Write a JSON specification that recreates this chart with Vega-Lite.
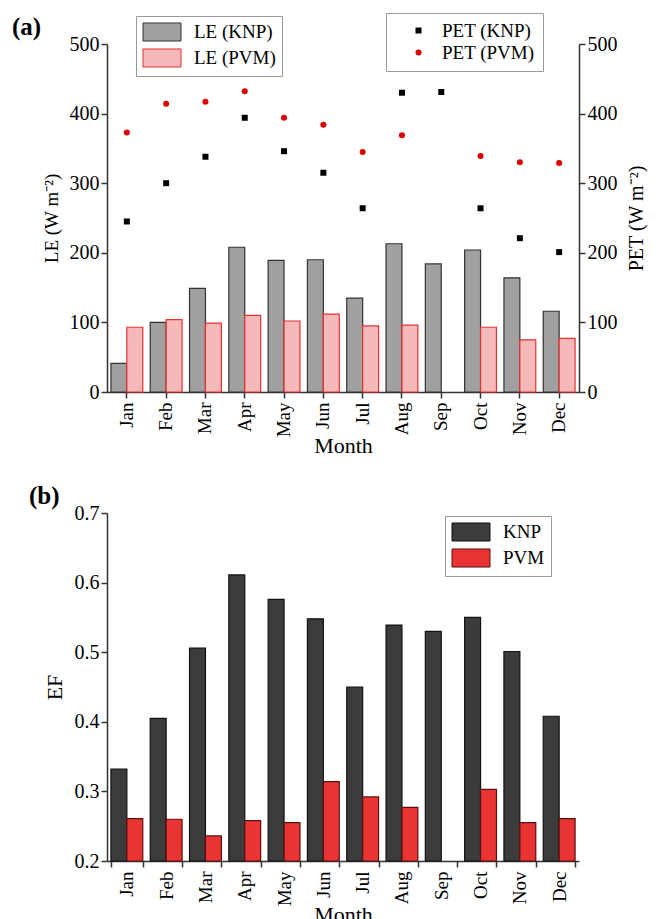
{
  "$schema": "https://vega.github.io/schema/vega-lite/v6.json",
  "background": "white",
  "padding": {"left": 12, "top": 12, "right": 5, "bottom": 0},
  "spacing": 27,
  "config": {
    "font": "Liberation Serif",
    "view": {"stroke": null},
    "axis": {
      "grid": false,
      "domainColor": "#333",
      "domainWidth": 1.5,
      "tickColor": "#333",
      "tickWidth": 1.5,
      "tickSize": 6,
      "labelFont": "Liberation Serif",
      "labelFontSize": 20,
      "labelColor": "black",
      "titleFont": "Liberation Serif",
      "titleFontSize": 19,
      "titleFontWeight": "normal",
      "titleColor": "black"
    },
    "legend": {
      "labelFont": "Liberation Serif",
      "labelFontSize": 19,
      "labelColor": "black",
      "strokeColor": "#999",
      "padding": 6,
      "rowPadding": 2
    }
  },
  "datasets": {
    "le": [
      {"month": "Jan", "site": "LE (KNP)", "LE": 41},
      {"month": "Jan", "site": "LE (PVM)", "LE": 93},
      {"month": "Feb", "site": "LE (KNP)", "LE": 100},
      {"month": "Feb", "site": "LE (PVM)", "LE": 104},
      {"month": "Mar", "site": "LE (KNP)", "LE": 149},
      {"month": "Mar", "site": "LE (PVM)", "LE": 99},
      {"month": "Apr", "site": "LE (KNP)", "LE": 208},
      {"month": "Apr", "site": "LE (PVM)", "LE": 110},
      {"month": "May", "site": "LE (KNP)", "LE": 189},
      {"month": "May", "site": "LE (PVM)", "LE": 102},
      {"month": "Jun", "site": "LE (KNP)", "LE": 190},
      {"month": "Jun", "site": "LE (PVM)", "LE": 112},
      {"month": "Jul", "site": "LE (KNP)", "LE": 135},
      {"month": "Jul", "site": "LE (PVM)", "LE": 95},
      {"month": "Aug", "site": "LE (KNP)", "LE": 213},
      {"month": "Aug", "site": "LE (PVM)", "LE": 96},
      {"month": "Sep", "site": "LE (KNP)", "LE": 184},
      {"month": "Oct", "site": "LE (KNP)", "LE": 204},
      {"month": "Oct", "site": "LE (PVM)", "LE": 93},
      {"month": "Nov", "site": "LE (KNP)", "LE": 164},
      {"month": "Nov", "site": "LE (PVM)", "LE": 75},
      {"month": "Dec", "site": "LE (KNP)", "LE": 116},
      {"month": "Dec", "site": "LE (PVM)", "LE": 77}
    ],
    "pet": [
      {"month": "Jan", "site": "PET (KNP)", "PET": 245},
      {"month": "Jan", "site": "PET (PVM)", "PET": 373},
      {"month": "Feb", "site": "PET (KNP)", "PET": 300},
      {"month": "Feb", "site": "PET (PVM)", "PET": 414},
      {"month": "Mar", "site": "PET (KNP)", "PET": 338},
      {"month": "Mar", "site": "PET (PVM)", "PET": 417},
      {"month": "Apr", "site": "PET (KNP)", "PET": 394},
      {"month": "Apr", "site": "PET (PVM)", "PET": 432},
      {"month": "May", "site": "PET (KNP)", "PET": 346},
      {"month": "May", "site": "PET (PVM)", "PET": 394},
      {"month": "Jun", "site": "PET (KNP)", "PET": 315},
      {"month": "Jun", "site": "PET (PVM)", "PET": 384},
      {"month": "Jul", "site": "PET (KNP)", "PET": 264},
      {"month": "Jul", "site": "PET (PVM)", "PET": 345},
      {"month": "Aug", "site": "PET (KNP)", "PET": 430},
      {"month": "Aug", "site": "PET (PVM)", "PET": 369},
      {"month": "Sep", "site": "PET (KNP)", "PET": 431},
      {"month": "Oct", "site": "PET (KNP)", "PET": 264},
      {"month": "Oct", "site": "PET (PVM)", "PET": 339},
      {"month": "Nov", "site": "PET (KNP)", "PET": 221},
      {"month": "Nov", "site": "PET (PVM)", "PET": 330},
      {"month": "Dec", "site": "PET (KNP)", "PET": 201},
      {"month": "Dec", "site": "PET (PVM)", "PET": 329}
    ],
    "ef": [
      {"month": "Jan", "site": "KNP", "EF": 0.332},
      {"month": "Jan", "site": "PVM", "EF": 0.261},
      {"month": "Feb", "site": "KNP", "EF": 0.405},
      {"month": "Feb", "site": "PVM", "EF": 0.260},
      {"month": "Mar", "site": "KNP", "EF": 0.506},
      {"month": "Mar", "site": "PVM", "EF": 0.236},
      {"month": "Apr", "site": "KNP", "EF": 0.611},
      {"month": "Apr", "site": "PVM", "EF": 0.258},
      {"month": "May", "site": "KNP", "EF": 0.576},
      {"month": "May", "site": "PVM", "EF": 0.255},
      {"month": "Jun", "site": "KNP", "EF": 0.548},
      {"month": "Jun", "site": "PVM", "EF": 0.314},
      {"month": "Jul", "site": "KNP", "EF": 0.450},
      {"month": "Jul", "site": "PVM", "EF": 0.292},
      {"month": "Aug", "site": "KNP", "EF": 0.539},
      {"month": "Aug", "site": "PVM", "EF": 0.277},
      {"month": "Sep", "site": "KNP", "EF": 0.530},
      {"month": "Oct", "site": "KNP", "EF": 0.550},
      {"month": "Oct", "site": "PVM", "EF": 0.303},
      {"month": "Nov", "site": "KNP", "EF": 0.501},
      {"month": "Nov", "site": "PVM", "EF": 0.255},
      {"month": "Dec", "site": "KNP", "EF": 0.408},
      {"month": "Dec", "site": "PVM", "EF": 0.261}
    ]
  },
  "vconcat": [
    {
      "width": 472,
      "height": 348,
      "title": {"text": "(a)", "anchor": "start", "frame": "group", "font": "Liberation Serif", "fontSize": 25, "fontWeight": "bold", "dx": -95, "dy": 24, "offset": 0},
      "layer": [
        {
          "data": {"name": "le"},
          "mark": {"type": "bar", "strokeWidth": 1.2},
          "encoding": {
            "x": {"field": "month", "type": "nominal", "sort": ["Jan","Feb","Mar","Apr","May","Jun","Jul","Aug","Sep","Oct","Nov","Dec"],
                  "scale": {"paddingInner": 0.19, "paddingOuter": 0.1},
                  "axis": {"title": "Month", "labelAngle": -90, "labelFontSize": 19, "titleFontSize": 22, "labelPadding": 4, "titlePadding": -1}},
            "xOffset": {"field": "site", "type": "nominal", "scale": {"domain": ["LE (KNP)", "LE (PVM)"]}},
            "y": {"field": "LE", "type": "quantitative", "scale": {"domain": [0, 500]},
                  "axis": {"title": "LE (W m⁻²)", "values": [0,100,200,300,400,500], "titlePadding": 8}},
            "fill": {"field": "site", "type": "nominal", "title": null,
                     "scale": {"domain": ["LE (KNP)", "LE (PVM)"], "range": ["#a0a0a0", "#f6b9b9"]},
                     "legend": {"orient": "none", "legendX": 29, "legendY": -28, "symbolType": "M-2,-0.95H2V0.95H-2Z", "symbolSize": 361, "labelOffset": 22, "symbolOffset": 10, "symbolStrokeWidth": 1}},
            "stroke": {"field": "site", "type": "nominal", "title": null,
                     "scale": {"domain": ["LE (KNP)", "LE (PVM)"], "range": ["#333333", "#e83030"]},
                     "legend": {"orient": "none", "legendX": 29, "legendY": -28, "symbolType": "M-2,-0.95H2V0.95H-2Z", "symbolSize": 361, "labelOffset": 22, "symbolOffset": 10, "symbolStrokeWidth": 1}}
          }
        },
        {
          "data": {"name": "pet"},
          "mark": {"type": "point", "filled": true, "size": 36, "opacity": 1},
          "encoding": {
            "x": {"field": "month", "type": "nominal", "sort": ["Jan","Feb","Mar","Apr","May","Jun","Jul","Aug","Sep","Oct","Nov","Dec"]},
            "y": {"field": "PET", "type": "quantitative", "scale": {"domain": [0, 500]},
                  "axis": {"orient": "right", "title": "PET (W m⁻²)", "values": [0,100,200,300,400,500], "titleAngle": 270, "titleBaseline": "top", "titlePadding": 9, "titleFontSize": 20}},
            "color": {"field": "site", "type": "nominal", "title": null,
                      "scale": {"domain": ["PET (KNP)", "PET (PVM)"], "range": ["black", "#e00000"]},
                      "legend": {"orient": "none", "legendX": 279, "legendY": -31, "symbolSize": 36, "labelOffset": 14, "symbolOffset": 15, "padding": 8}},
            "shape": {"field": "site", "type": "nominal", "title": null,
                      "scale": {"domain": ["PET (KNP)", "PET (PVM)"], "range": ["square", "circle"]},
                      "legend": {"orient": "none", "legendX": 279, "legendY": -31, "symbolSize": 36, "labelOffset": 14, "symbolOffset": 15, "padding": 8}}
          }
        }
      ],
      "resolve": {"scale": {"y": "independent"}}
    },
    {
      "width": 472,
      "height": 348,
      "title": {"text": "(b)", "anchor": "start", "frame": "group", "font": "Liberation Serif", "fontSize": 25, "fontWeight": "bold", "dx": -78, "dy": 6, "offset": 0},
      "data": {"name": "ef"},
      "mark": {"type": "bar", "strokeWidth": 1.2},
      "encoding": {
        "x": {"field": "month", "type": "nominal", "sort": ["Jan","Feb","Mar","Apr","May","Jun","Jul","Aug","Sep","Oct","Nov","Dec"],
              "scale": {"paddingInner": 0.19, "paddingOuter": 0.1},
              "axis": {"title": "Month", "labelAngle": -90, "labelFontSize": 19, "titleFontSize": 22, "labelPadding": 4, "titlePadding": -1, "tickBand": "extent"}},
        "xOffset": {"field": "site", "type": "nominal", "scale": {"domain": ["KNP", "PVM"]}},
        "y": {"field": "EF", "type": "quantitative", "scale": {"domain": [0.2, 0.7], "zero": false},
              "axis": {"title": "EF", "values": [0.2,0.3,0.4,0.5,0.6,0.7], "format": ".1f", "titlePadding": 8, "titleFontSize": 22}},
        "y2": {"datum": 0.2},
        "fill": {"field": "site", "type": "nominal", "title": null,
                 "scale": {"domain": ["KNP", "PVM"], "range": ["#3c3c3c", "#ea3434"]},
                 "legend": {"orient": "none", "legendX": 338, "legendY": 3, "symbolType": "M-2,-0.95H2V0.95H-2Z", "symbolSize": 361, "labelOffset": 22, "symbolOffset": 10, "symbolStrokeWidth": 1}},
        "stroke": {"field": "site", "type": "nominal", "title": null,
                 "scale": {"domain": ["KNP", "PVM"], "range": ["#111111", "#5a1010"]},
                 "legend": {"orient": "none", "legendX": 338, "legendY": 3, "symbolType": "M-2,-0.95H2V0.95H-2Z", "symbolSize": 361, "labelOffset": 22, "symbolOffset": 10, "symbolStrokeWidth": 1}}
      }
    }
  ],
  "resolve": {"scale": {"x": "independent", "xOffset": "independent", "fill": "independent", "stroke": "independent", "y": "independent"},
              "legend": {"fill": "independent", "stroke": "independent"}}
}
